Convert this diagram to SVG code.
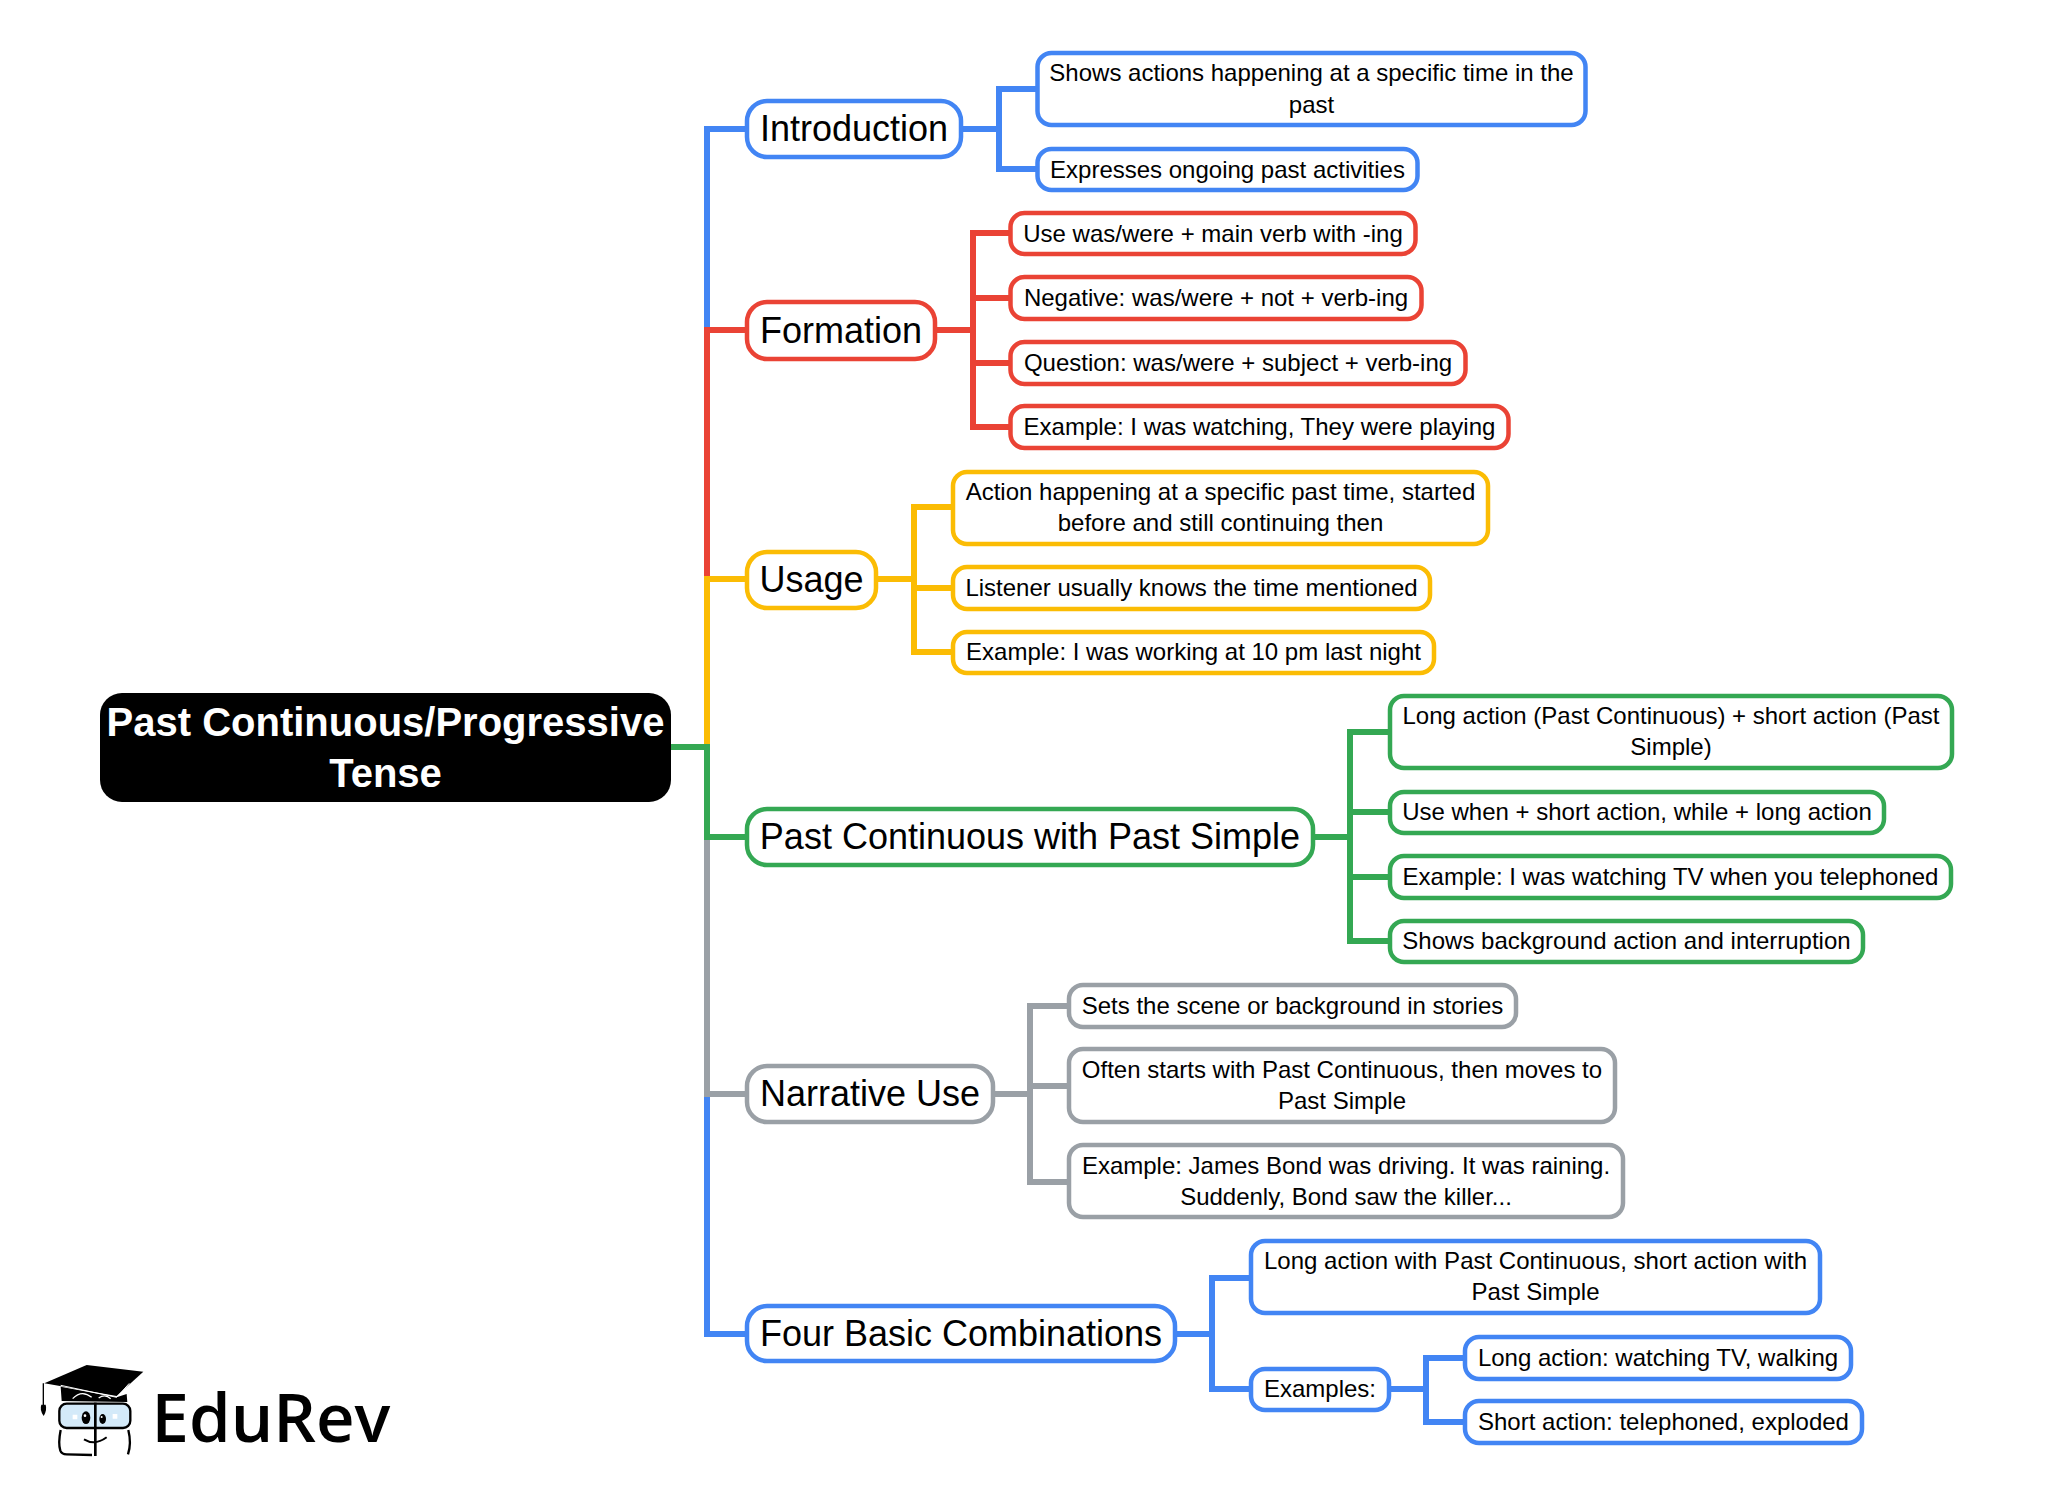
<svg xmlns="http://www.w3.org/2000/svg" width="2055" height="1495" viewBox="0 0 2055 1495">
<style>
text{font-family:"Liberation Sans",Arial,sans-serif;fill:#000;text-anchor:middle}
.s{font-size:24px}.m{font-size:36px}
.r{font-size:40px;font-weight:700;fill:#fff}
rect{fill:#fff;stroke-width:4.5}
.c path{fill:none;stroke-width:6;stroke-linejoin:miter}
.blue rect{stroke:#4285F4;rx:14px}.red rect{stroke:#EA4335;rx:14px}.yel rect{stroke:#FBBC04;rx:14px}.grn rect{stroke:#34A853;rx:14px}.gry rect{stroke:#9AA0A6;rx:14px}
g.big rect{rx:20px}
.pb{stroke:#4285F4}.pr{stroke:#EA4335}.py{stroke:#FBBC04}.pg{stroke:#34A853}.pa{stroke:#9AA0A6}
</style>
<rect width="2055" height="1495" style="fill:#fff;stroke:none"/>
<g id="connectors" class="c">
<path class="pb" d="M671 747H707V129H746M707 837V1334H746"/>
<path class="pr" d="M707 747V330H746"/>
<path class="py" d="M707 747V579H746"/>
<path class="pa" d="M707 837V1094H746"/>
<path class="pg" d="M671 747H707V837H746"/>
<path class="pb" d="M962 129H999M1036 89H999V169H1036"/>
<path class="pr" d="M937 330H973M1009 233H973V427H1009M973 298H1009M973 363H1009"/>
<path class="py" d="M877 579H914M951 507H914V652H951M914 588H951"/>
<path class="pg" d="M1313 837H1350M1388 732H1350V941H1388M1350 812H1388M1350 877H1388"/>
<path class="pa" d="M994 1094H1030M1068 1006H1030V1182H1068M1030 1086H1068"/>
<path class="pb" d="M1176 1334H1212M1250 1278H1212V1389H1250"/>
<path class="pb" d="M1390 1389H1426M1464 1358H1426V1422H1464"/>
</g>
<g id="root"><rect x="100" y="693" width="571" height="109" rx="22" style="fill:#000;stroke:none"/><text class="r" x="385.500" y="736">Past Continuous/Progressive</text><text class="r" x="385.500" y="787">Tense</text></g>

<g id="n-intro" class="blue big"><rect x="747" y="101" width="214" height="56"/><text class="m" x="854" y="141">Introduction</text></g>
<g id="n-intro-1" class="blue"><rect x="1037.500" y="53" width="548" height="72"/><text class="s" x="1311.500" y="81">Shows actions happening at a specific time in the</text><text class="s" x="1311.500" y="113">past</text></g>
<g id="n-intro-2" class="blue"><rect x="1037.500" y="149" width="380" height="41"/><text class="s" x="1227.500" y="178">Expresses ongoing past activities</text></g>

<g id="n-form" class="red big"><rect x="747" y="302" width="188" height="57"/><text class="m" x="841" y="343">Formation</text></g>
<g id="n-form-1" class="red"><rect x="1010.500" y="213" width="405" height="41"/><text class="s" x="1213" y="242">Use was/were + main verb with -ing</text></g>
<g id="n-form-2" class="red"><rect x="1010.500" y="277" width="411" height="42"/><text class="s" x="1216" y="306">Negative: was/were + not + verb-ing</text></g>
<g id="n-form-3" class="red"><rect x="1010.500" y="342" width="455" height="42"/><text class="s" x="1238" y="371">Question: was/were + subject + verb-ing</text></g>
<g id="n-form-4" class="red"><rect x="1010.500" y="406" width="498" height="42"/><text class="s" x="1259.500" y="435">Example: I was watching, They were playing</text></g>

<g id="n-usage" class="yel big"><rect x="747" y="552" width="129" height="56"/><text class="m" x="811.500" y="592">Usage</text></g>
<g id="n-usage-1" class="yel"><rect x="953" y="472" width="535" height="72"/><text class="s" x="1220.500" y="500">Action happening at a specific past time, started</text><text class="s" x="1220.500" y="531">before and still continuing then</text></g>
<g id="n-usage-2" class="yel"><rect x="953" y="567" width="477" height="42"/><text class="s" x="1191.500" y="596">Listener usually knows the time mentioned</text></g>
<g id="n-usage-3" class="yel"><rect x="953" y="632" width="481" height="41"/><text class="s" x="1193.500" y="660">Example: I was working at 10 pm last night</text></g>

<g id="n-pcps" class="grn big"><rect x="747" y="809" width="566" height="56"/><text class="m" x="1030" y="849">Past Continuous with Past Simple</text></g>
<g id="n-pcps-1" class="grn"><rect x="1390" y="696" width="562" height="72"/><text class="s" x="1671" y="724">Long action (Past Continuous) + short action (Past</text><text class="s" x="1671" y="755">Simple)</text></g>
<g id="n-pcps-2" class="grn"><rect x="1390" y="792" width="494" height="41"/><text class="s" x="1637" y="820">Use when + short action, while + long action</text></g>
<g id="n-pcps-3" class="grn"><rect x="1390" y="856" width="561" height="42"/><text class="s" x="1670.500" y="885">Example: I was watching TV when you telephoned</text></g>
<g id="n-pcps-4" class="grn"><rect x="1390" y="921" width="473" height="41"/><text class="s" x="1626.500" y="949">Shows background action and interruption</text></g>

<g id="n-narr" class="gry big"><rect x="747" y="1066" width="246" height="56"/><text class="m" x="870" y="1106">Narrative Use</text></g>
<g id="n-narr-1" class="gry"><rect x="1069" y="985" width="447" height="42"/><text class="s" x="1292.500" y="1014">Sets the scene or background in stories</text></g>
<g id="n-narr-2" class="gry"><rect x="1069" y="1049" width="546" height="73"/><text class="s" x="1342" y="1078">Often starts with Past Continuous, then moves to</text><text class="s" x="1342" y="1109">Past Simple</text></g>
<g id="n-narr-3" class="gry"><rect x="1069" y="1145" width="554" height="72"/><text class="s" x="1346" y="1174">Example: James Bond was driving. It was raining.</text><text class="s" x="1346" y="1205">Suddenly, Bond saw the killer...</text></g>

<g id="n-four" class="blue big"><rect x="747" y="1306" width="428" height="55"/><text class="m" x="961" y="1346">Four Basic Combinations</text></g>
<g id="n-four-1" class="blue"><rect x="1251" y="1241" width="569" height="72"/><text class="s" x="1535.500" y="1269">Long action with Past Continuous, short action with</text><text class="s" x="1535.500" y="1300">Past Simple</text></g>
<g id="n-four-2" class="blue"><rect x="1251" y="1369" width="138" height="41"/><text class="s" x="1320" y="1397">Examples:</text></g>
<g id="n-four-3" class="blue"><rect x="1465" y="1337" width="386" height="42"/><text class="s" x="1658" y="1366">Long action: watching TV, walking</text></g>
<g id="n-four-4" class="blue"><rect x="1465" y="1401" width="397" height="42"/><text class="s" x="1663.500" y="1430">Short action: telephoned, exploded</text></g>

<g id="logo" transform="translate(0 1320) scale(.3333)">
<path d="M182 200L185 243L382 246L380 222L350 232Z" style="fill:#000"/>
<path d="M133 190L260 135L430 155L350 228Z" style="fill:#000"/>
<path d="M182 196L350 232L388 190" style="fill:none;stroke:#fff;stroke-width:3"/>
<path d="M218 236Q245 208 275 232M296 234Q315 220 332 236" style="fill:none;stroke:#fff;stroke-width:4"/>
<path d="M130 190V256" style="fill:none;stroke:#000;stroke-width:4"/>
<path d="M124 254H137Q142 270 131 288Q118 270 124 254Z" style="fill:#000"/>
<rect x="178" y="251" width="213" height="73" rx="22" style="fill:#d4eaf9;stroke:#000;stroke-width:7"/>
<path d="M182 330Q174 370 181 392Q185 403 200 403L276 405M385 330Q395 370 384 403" style="fill:none;stroke:#000;stroke-width:7"/>
<path d="M286 248V408" style="fill:none;stroke:#000;stroke-width:8"/>
<ellipse cx="258" cy="293" rx="13" ry="19" fill="#000"/><ellipse cx="308" cy="297" rx="10" ry="15" fill="#000"/>
<circle cx="255" cy="287" r="4" fill="#fff"/><circle cx="305" cy="291" r="3" fill="#fff"/>
<path d="M218 284h14v14h-14zM338 282h14v14h-14z" style="fill:#fff"/>
<path d="M252 358Q285 378 320 352" style="fill:none;stroke:#000;stroke-width:6"/>
</g>
<text id="logo-text" x="271" y="1442" style="font-family:'Open Sans','Noto Sans',sans-serif;font-weight:600;font-size:67px">EduRev</text>
</svg>
